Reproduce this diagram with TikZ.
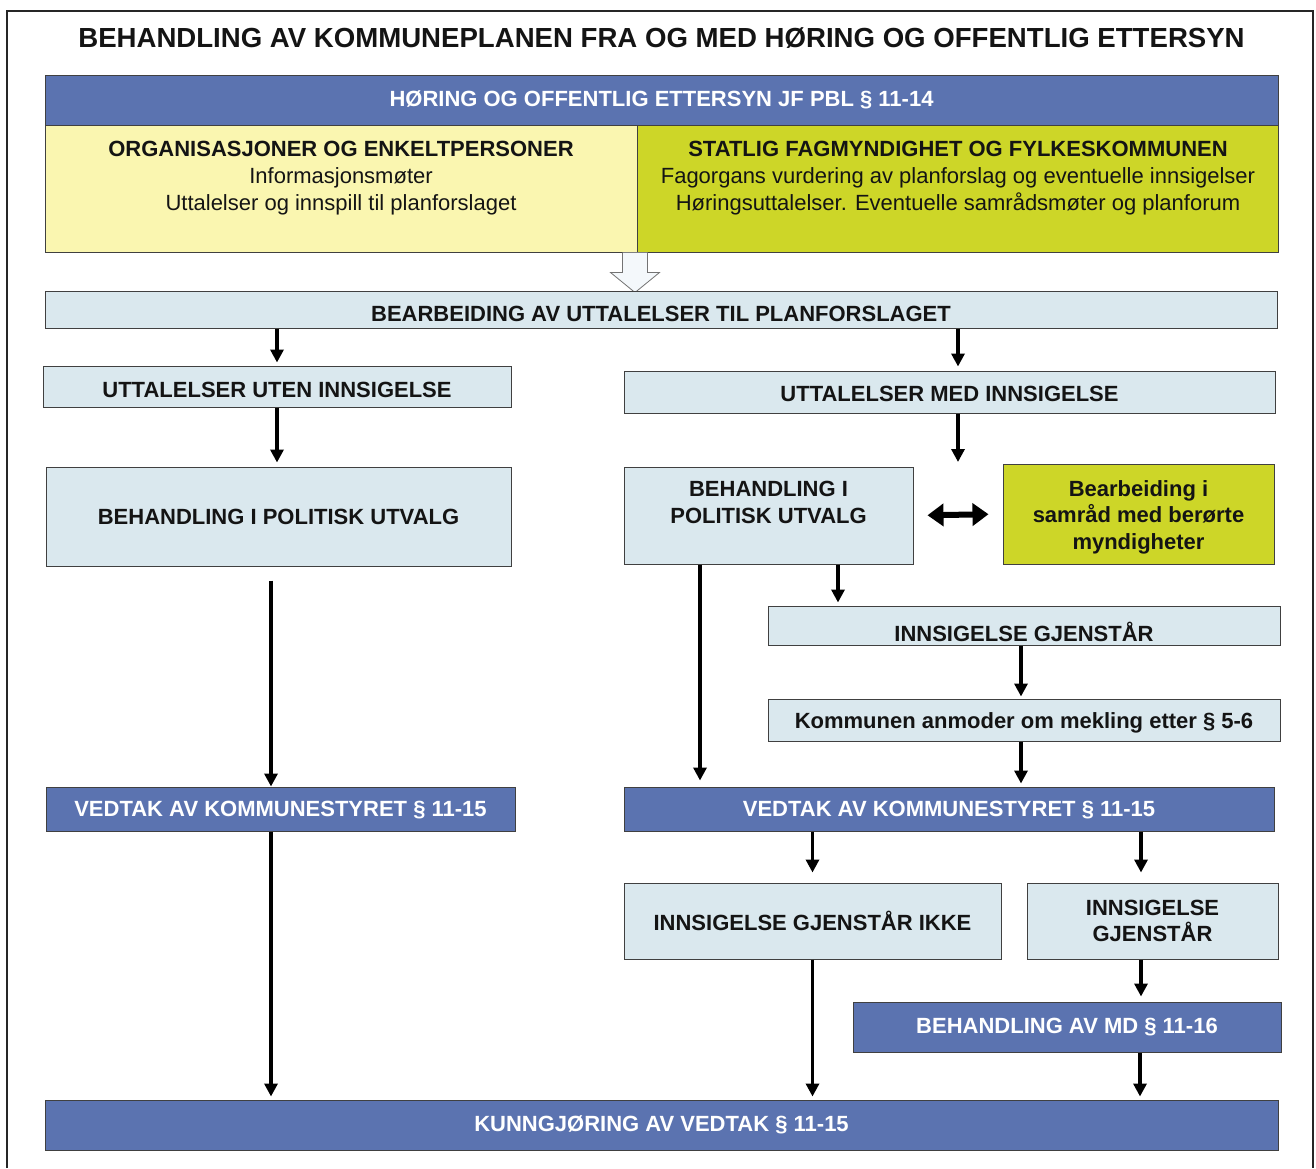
\documentclass[tikz,border=0pt]{standalone}
\usepackage{fontspec}
\setmainfont{Liberation Sans}
\usetikzlibrary{arrows.meta,positioning}

\definecolor{hblue}{RGB}{91,115,176}
\definecolor{hpale}{RGB}{250,246,176}
\definecolor{hlime}{RGB}{205,214,40}
\definecolor{hlight}{RGB}{218,232,238}
\definecolor{hghost}{RGB}{244,248,251}
\definecolor{hink}{RGB}{20,20,20}

\newcommand{\hbfont}{\bfseries\fontsize{22}{26.5}\selectfont}
\newcommand{\hrfont}{\fontsize{22}{27}\selectfont}

\tikzset{
  box/.style={draw=black!75, line width=1pt, inner sep=0pt, align=center, text=hink, font=\hbfont},
  bluebox/.style={box, fill=hblue, text=white},
  lightbox/.style={box, fill=hlight},
  limebox/.style={box, fill=hlime},
  palebox/.style={box, fill=hpale},
  tshift/.style={text height=#1, text depth=0pt},
  txt/.style={inner sep=0pt, align=center, text=hink, font=\hrfont},
  arr/.style={line width=3.5pt, -{Triangle[width=13pt,length=13pt]}},
  dblarr/.style={line width=6pt, {Triangle[width=22pt,length=16pt]}-{Triangle[width=22pt,length=16pt]}},
  hollowarr/.style={draw=black!55, line width=0.8pt, fill=hghost},
}

\begin{document}
\begin{tikzpicture}[x=1pt,y=1pt,yscale=-1,xscale=1]
\useasboundingbox (0,0) rectangle (1316,1168);

%Shape: Frame
\draw[line width=1.6pt, black!85] (7,1168) -- (7,11) -- (1313,11) -- (1313,1168);

% Text Node
\node[txt, font=\bfseries\fontsize{27.6}{32}\selectfont] (title) at (661.5,38) {BEHANDLING AV KOMMUNEPLANEN FRA OG MED HØRING OG OFFENTLIG ETTERSYN};

%Shape: Rectangle
\node[bluebox, minimum width=1233, minimum height=50] (hoering) at (661.5,100) {HØRING OG OFFENTLIG ETTERSYN JF PBL § 11-14};
\node[palebox, minimum width=592, minimum height=127] (org) at (341,188.5) {};
\node[limebox, minimum width=641, minimum height=127] (stat) at (957.5,188.5) {};
% Text Node
\node[txt] (orgtxt) at (341,178.5) {\textbf{ORGANISASJONER OG ENKELTPERSONER}\\Informasjonsmøter\\Uttalelser og innspill til planforslaget};
% Text Node
\node[txt] (stattxt) at (958,178.5) {\textbf{STATLIG FAGMYNDIGHET OG FYLKESKOMMUNEN}\\Fagorgans vurdering av planforslag og eventuelle innsigelser\\Høringsuttalelser. Eventuelle samrådsmøter og planforum};

%Shape: Hollow arrow
\draw[hollowarr] (org.south east) ++(-15,0) -- ++(0,20) -- ++(-12,0) -- ++(24.5,20) -- ++(24.5,-20) -- ++(-12,0) -- ++(0,-20);

%Shape: Rectangle
\node[lightbox, tshift=23.7pt, minimum width=1232, minimum height=37] (bearb) at (661,309.5) {BEARBEIDING AV UTTALELSER TIL PLANFORSLAGET};

% left column
\node[lightbox, tshift=21.7pt, minimum width=468, minimum height=41] (uuten) at (277,386.5) {UTTALELSER UTEN INNSIGELSE};
\node[lightbox, minimum width=465, minimum height=99] (polL) at (278.5,516.5) {BEHANDLING I POLITISK UTVALG};
\node[bluebox, tshift=15.3pt, minimum width=469, minimum height=44] (vedL) at (280.5,809) {VEDTAK AV KOMMUNESTYRET § 11-15};

% right column
\node[lightbox, tshift=19.7pt, minimum width=651, minimum height=42] (umed) at (949.5,392) {UTTALELSER MED INNSIGELSE};
\node[lightbox, minimum width=289, minimum height=97] (polR) at (768.5,515.5) {};
\node[txt, font=\hbfont] (polRtxt) at (768.5,502.5) {BEHANDLING I\\POLITISK UTVALG};
\node[limebox, minimum width=271, minimum height=100] (samr) at (1138.5,514) {};
\node[txt, font=\hbfont] (samrtxt) at (1138.5,517) {Bearbeiding i\\samråd med berørte\\myndigheter};
\node[lightbox, minimum width=512, minimum height=39] (igj) at (1024,625.5) {};
\node[txt, font=\hbfont] (igjtxt) at (1024,632) {INNSIGELSE GJENSTÅR};
\node[lightbox, tshift=17.2pt, minimum width=512, minimum height=42] (mekl) at (1024,720) {Kommunen anmoder om mekling etter § 5-6};
\node[bluebox, tshift=15.3pt, minimum width=650, minimum height=44] (vedR) at (949,809) {VEDTAK AV KOMMUNESTYRET § 11-15};
\node[lightbox, minimum width=377, minimum height=76] (ikke) at (812.5,921) {INNSIGELSE GJENSTÅR IKKE};
\node[lightbox, minimum width=251, minimum height=76] (gjen) at (1152.5,921) {INNSIGELSE\\GJENSTÅR};
\node[bluebox, minimum width=428, minimum height=50] (md) at (1067,1027) {BEHANDLING AV MD § 11-16};

% bottom
\node[bluebox, minimum width=1233, minimum height=50] (kunn) at (661.5,1125) {KUNNGJØRING AV VEDTAK § 11-15};

\coordinate (gap) at (958,462);

% Arrows
\draw[arr, shorten >=3pt] (bearb.south -| uuten.north) -- (uuten.north);
\draw[arr, shorten >=4pt] (bearb.south -| gap) -- (umed.north -| gap);
\draw[arr, shorten >=4pt] (uuten.south) -- (polL.north -| uuten.south);
\draw[arr] (umed.south -| gap) -- (gap);
\draw[dblarr, shorten <=14pt, shorten >=14pt] (polR.east) -- (samr.west);
\draw[arr, shorten <=14pt] (polL.south -| 271,0) -- (vedL.north -| 271,0);
\draw[arr, shorten >=3pt] (polR.south -| 838,0) -- (igj.north -| 838,0);
\draw[arr, shorten >=2pt] (igj.south -| 1021,0) -- (mekl.north -| 1021,0);
\draw[arr, shorten >=3pt] (mekl.south -| 1021,0) -- (vedR.north -| 1021,0);
\draw[arr, shorten >=6pt] (polR.south -| 700,0) -- (vedR.north -| 700,0);
\draw[arr, shorten >=10pt] (vedR.south -| ikke.north) -- (ikke.north);
\draw[arr, shorten >=10pt] (vedR.south -| 1141,0) -- (gjen.north -| 1141,0);
\draw[arr, shorten >=5pt] (gjen.south -| 1141,0) -- (md.north -| 1141,0);
\draw[arr, shorten >=3pt] (md.south -| 1140,0) -- (kunn.north -| 1140,0);
\draw[arr, shorten >=3pt] (ikke.south) -- (kunn.north -| ikke.south);
\draw[arr, shorten >=3pt] (vedL.south -| 271,0) -- (kunn.north -| 271,0);

\end{tikzpicture}
\end{document}
